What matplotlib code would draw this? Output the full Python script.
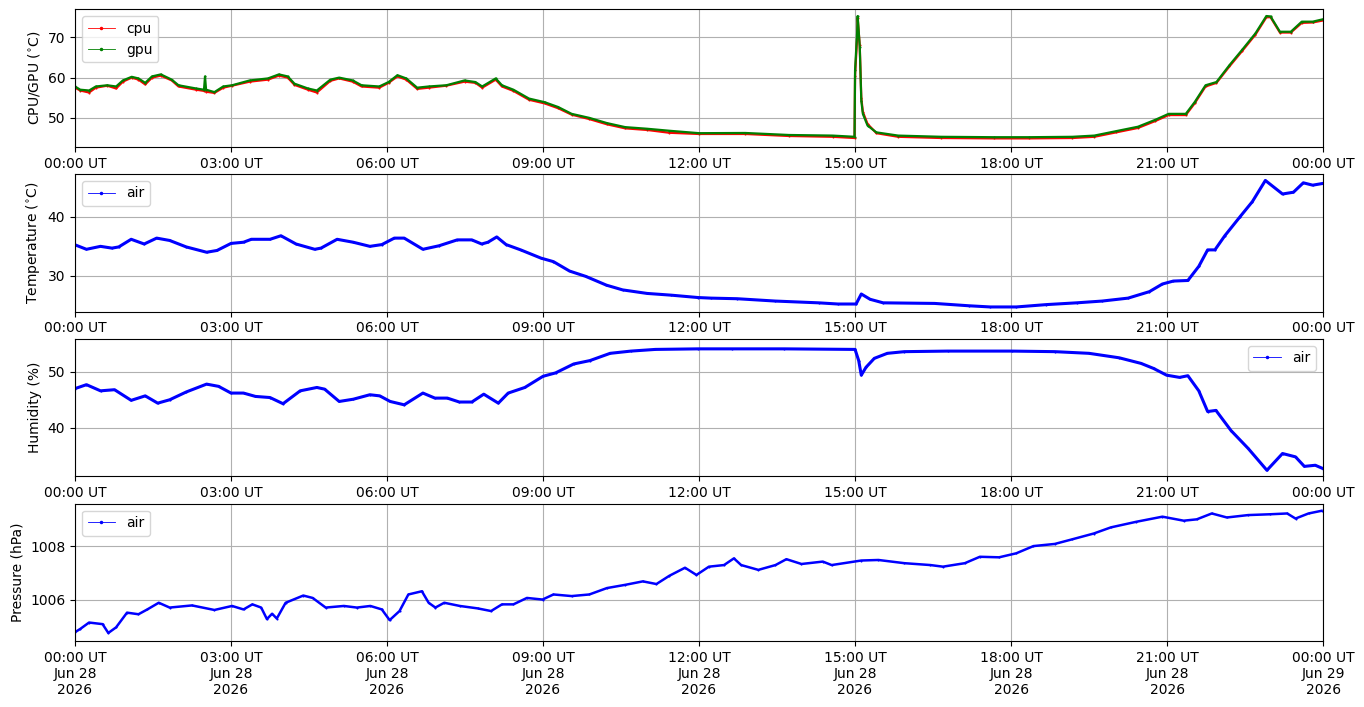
import numpy as np
import matplotlib
matplotlib.use("Agg")
import matplotlib.pyplot as plt
import matplotlib.dates as mdates
from matplotlib.lines import Line2D

# hours after 2026-06-28 00:00 UT
chip_hours = [0, 0.1, 0.27, 0.4, 0.62, 0.79, 0.92, 1.09, 1.22, 1.35, 1.48, 1.65, 1.86, 1.99,
              2.33, 2.48, 2.5, 2.52, 2.68, 2.85, 3.02, 3.36, 3.71, 3.92, 4.09, 4.22, 4.48,
              4.65, 4.91, 5.08, 5.34, 5.51, 5.85, 6.03, 6.2, 6.37, 6.58, 6.8, 7.14, 7.49,
              7.7, 7.83, 8.09, 8.21, 8.43, 8.73, 9.03, 9.29, 9.55, 9.89, 10.23, 10.58, 11.0,
              11.43, 12.0, 12.89, 13.73, 14.57, 14.99, 15.0, 15.04, 15.05, 15.09, 15.12,
              15.15, 15.24, 15.41, 15.83, 16.66, 17.67, 18.34, 19.18, 19.6, 20.02, 20.44,
              20.77, 21.03, 21.36, 21.53, 21.74, 21.95, 22.2, 22.45, 22.7, 22.91, 22.99,
              23.17, 23.38, 23.59, 23.8, 24.0]
gpu = [57.8, 57.0, 56.8, 57.8, 58.1, 57.8, 59.3, 60.2, 59.8, 58.7, 60.3, 60.8, 59.5, 58.1,
       57.3, 57.0, 60.3, 57.0, 56.4, 57.8, 58.1, 59.3, 59.8, 60.8, 60.3, 58.5, 57.3,
       56.8, 59.5, 60.0, 59.3, 58.1, 57.8, 58.9, 60.6, 59.8, 57.5, 57.8, 58.1, 59.3,
       58.9, 57.8, 59.8, 58.1, 57.0, 54.8, 53.9, 52.7, 51.0, 50.0, 48.7, 47.7, 47.3,
       46.8, 46.2, 46.25, 45.75, 45.6, 45.3, 61.8, 71.2, 75.3, 67.7, 54.3,
       51.0, 48.1, 46.4, 45.6, 45.3, 45.2, 45.2, 45.3, 45.6, 46.7, 47.8,
       49.5, 51.0, 51.0, 53.9, 58.1, 58.9, 63.1, 67.0, 71.0, 75.3, 75.2,
       71.4, 71.4, 73.9, 73.9, 74.5]
cpu = [57.5, 56.8, 56.3, 57.5, 58.0, 57.3, 59.0, 60.0, 59.5, 58.3, 60.0, 60.5, 59.3, 57.8,
       57.0, 56.7, 57.0, 56.5, 56.2, 57.5, 58.0, 59.0, 59.5, 60.5, 60.0, 58.2, 57.0,
       56.3, 59.2, 59.8, 59.0, 57.8, 57.5, 58.7, 60.3, 59.5, 57.2, 57.5, 58.0, 59.0,
       58.7, 57.5, 59.5, 57.8, 56.7, 54.5, 53.6, 52.4, 50.8, 49.7, 48.4, 47.4, 47.0,
       46.3, 46.0, 46.0, 45.5, 45.3, 45.0, 60.5, 70.0, 74.8, 68.0, 55.0,
       51.5, 48.5, 46.2, 45.3, 45.0, 44.9, 44.9, 45.0, 45.3, 46.4, 47.5,
       49.2, 50.7, 50.7, 53.6, 57.8, 58.7, 62.8, 66.7, 70.7, 75.0, 75.0,
       71.2, 71.2, 73.6, 73.7, 74.2]

temp_hours = [0, 0.22, 0.49, 0.71, 0.84, 1.08, 1.33, 1.57, 1.82, 2.14, 2.53, 2.73, 3.0, 3.24,
              3.39, 3.75, 3.96, 4.25, 4.61, 4.73, 5.04, 5.35, 5.67, 5.9, 6.14, 6.33, 6.69,
              7.0, 7.35, 7.63, 7.82, 7.94, 8.11, 8.29, 8.57, 8.96, 9.2, 9.51, 9.82, 10.22,
              10.53, 11.0, 11.47, 11.98, 12.23, 12.73, 13.47, 14.3, 14.67, 15.02, 15.12,
              15.29, 15.54, 16.53, 17.19, 17.6, 18.1, 18.68, 19.26, 19.75, 20.25, 20.66,
              20.91, 21.12, 21.4, 21.61, 21.78, 21.92, 22.11, 22.4, 22.64, 22.89, 23.22,
              23.43, 23.62, 23.8, 24.0]
temp_air = [35.26, 34.5, 35.0, 34.7, 34.9, 36.2, 35.4, 36.4, 36.0, 34.9, 34.0, 34.3, 35.5, 35.7,
            36.2, 36.2, 36.8, 35.4, 34.5, 34.7, 36.2, 35.7, 35.0, 35.3, 36.4, 36.4, 34.5,
            35.1, 36.1, 36.1, 35.4, 35.7, 36.6, 35.3, 34.4, 33.0, 32.4, 30.8, 29.9, 28.4,
            27.6, 27.0, 26.7, 26.3, 26.2, 26.1, 25.7, 25.4, 25.2, 25.2, 26.9,
            26.0, 25.4, 25.3, 24.9, 24.7, 24.7, 25.1, 25.4, 25.7, 26.2, 27.3,
            28.6, 29.1, 29.2, 31.6, 34.4, 34.4, 36.8, 40.0, 42.6, 46.2, 43.9,
            44.2, 45.8, 45.4, 45.7]

hum_hours = [0, 0.22, 0.49, 0.76, 1.08, 1.35, 1.59, 1.82, 2.14, 2.53, 2.76, 3.0, 3.24, 3.47,
             3.75, 4.0, 4.33, 4.65, 4.8, 5.08, 5.35, 5.67, 5.86, 6.06, 6.33, 6.69, 6.92,
             7.16, 7.39, 7.63, 7.86, 8.14, 8.33, 8.65, 9.0, 9.24, 9.59, 9.9, 10.29, 10.69,
             11.16, 11.98, 12.64, 13.64, 15.0, 15.07, 15.12, 15.21, 15.37, 15.62, 15.95,
             16.78, 18.02, 18.84, 19.5, 20.08, 20.5, 20.74, 20.99, 21.24, 21.4, 21.61,
             21.78, 21.94, 22.23, 22.56, 22.92, 23.22, 23.47, 23.64, 23.85, 24.0]
hum_air = [47.0, 47.7, 46.6, 46.8, 44.9, 45.7, 44.4, 45.0, 46.4, 47.8, 47.4, 46.2, 46.2, 45.6,
           45.4, 44.3, 46.6, 47.2, 46.9, 44.7, 45.1, 45.9, 45.7, 44.7, 44.1, 46.2, 45.3,
           45.3, 44.6, 44.6, 46.0, 44.4, 46.2, 47.2, 49.2, 49.8, 51.4, 52.0, 53.3, 53.7,
           54.0, 54.1, 54.1, 54.1, 54.0, 52.0, 49.4, 50.8, 52.4, 53.3, 53.6,
           53.7, 53.7, 53.6, 53.3, 52.5, 51.5, 50.6, 49.4, 49.0, 49.3, 46.6,
           42.9, 43.1, 39.5, 36.3, 32.4, 35.4, 34.8, 33.1, 33.3, 32.7]

pres_hours = [0, 0.1, 0.27, 0.53, 0.64, 0.79, 1.0, 1.22, 1.39, 1.61, 1.82, 2.25, 2.68, 3.02,
              3.24, 3.41, 3.58, 3.69, 3.79, 3.88, 4.05, 4.39, 4.57, 4.82, 5.17, 5.42, 5.68,
              5.9, 6.05, 6.24, 6.41, 6.67, 6.8, 6.93, 7.1, 7.4, 7.74, 8.0, 8.21, 8.43, 8.69,
              8.99, 9.2, 9.55, 9.89, 10.23, 10.58, 10.92, 11.18, 11.43, 11.73, 11.95, 12.19,
              12.48, 12.67, 12.81, 13.14, 13.47, 13.68, 13.97, 14.38, 14.55, 15.12, 15.45,
              15.95, 16.45, 16.69, 17.11, 17.4, 17.77, 18.1, 18.43, 18.84, 19.17, 19.59,
              19.92, 20.41, 20.91, 21.32, 21.57, 21.86, 22.15, 22.56, 22.98, 23.31, 23.47,
              23.72, 23.97]
pres_air = [1004.79, 1004.91, 1005.15, 1005.09, 1004.76, 1004.97, 1005.52, 1005.46, 1005.64,
            1005.89, 1005.71, 1005.79, 1005.62, 1005.77, 1005.64, 1005.83, 1005.71, 1005.28,
            1005.48, 1005.30, 1005.89, 1006.16, 1006.07, 1005.71, 1005.77, 1005.71, 1005.77,
            1005.64, 1005.24, 1005.58, 1006.20, 1006.32, 1005.89, 1005.71, 1005.89, 1005.77,
            1005.68, 1005.58, 1005.83, 1005.83, 1006.07, 1006.01, 1006.20, 1006.14, 1006.20,
            1006.44, 1006.56, 1006.69, 1006.59, 1006.90, 1007.20, 1006.93, 1007.24,
            1007.30, 1007.55, 1007.30, 1007.12, 1007.30, 1007.52, 1007.34, 1007.43, 1007.30,
            1007.47, 1007.49, 1007.37, 1007.30, 1007.24, 1007.37, 1007.61, 1007.59, 1007.74,
            1008.01, 1008.09, 1008.26, 1008.48, 1008.71, 1008.92, 1009.11, 1008.96, 1009.01,
            1009.23, 1009.08, 1009.17, 1009.20, 1009.23, 1009.04, 1009.23, 1009.33]

start = np.datetime64('2026-06-28T00:00')


def to_time(hours):
    return start + (np.array(hours) * 3600).astype('timedelta64[s]')


def series(ax, hours, values, color, lw=2.2):
    ax.plot(to_time(hours), values, color=color, lw=lw, marker='.', ms=3, mew=0)


def handle(color, label):
    return Line2D([], [], color=color, lw=0.6, marker='.', ms=3, label=label)


fig, axes = plt.subplots(4, 1, figsize=(13.64, 7.07), dpi=100)
fig.subplots_adjust(left=0.055, right=0.97, top=0.987, bottom=0.093, hspace=0.197)

ax = axes[0]
series(ax, chip_hours, cpu, 'red', lw=1.6)
series(ax, chip_hours, gpu, 'green', lw=1.6)
ax.set_ylabel('CPU/GPU ($^{\\circ}$C)')
ax.set_ylim(42.8, 77)
ax.set_yticks([50, 60, 70])
ax.legend(handles=[handle('red', 'cpu'), handle('green', 'gpu')], loc='upper left')

ax = axes[1]
series(ax, temp_hours, temp_air, 'blue')
ax.set_ylabel('Temperature ($^{\\circ}$C)')
ax.set_ylim(23.9, 47.3)
ax.set_yticks([30, 40])
ax.legend(handles=[handle('blue', 'air')], loc='upper left')

ax = axes[2]
series(ax, hum_hours, hum_air, 'blue')
ax.set_ylabel('Humidity (%)')
ax.set_ylim(31.3, 55.9)
ax.set_yticks([40, 50])
ax.legend(handles=[handle('blue', 'air')], loc='upper right')

ax = axes[3]
series(ax, pres_hours, pres_air, 'blue', lw=1.8)
ax.set_ylabel('Pressure (hPa)')
ax.set_ylim(1004.45, 1009.6)
ax.set_yticks([1006, 1008])
ax.yaxis.set_major_formatter(matplotlib.ticker.FormatStrFormatter('%d'))
ax.legend(handles=[handle('blue', 'air')], loc='upper left')

for i, ax in enumerate(axes):
    ax.set_xlim(to_time([0])[0], to_time([24])[0])
    ax.xaxis.set_major_locator(mdates.HourLocator(byhour=range(0, 24, 3)))
    if i == 3:
        ax.xaxis.set_major_formatter(mdates.DateFormatter('%H:%M UT\n%b %d\n%Y'))
    else:
        ax.xaxis.set_major_formatter(mdates.DateFormatter('%H:%M UT'))
    ax.grid(True)

fig.savefig('out.png')
